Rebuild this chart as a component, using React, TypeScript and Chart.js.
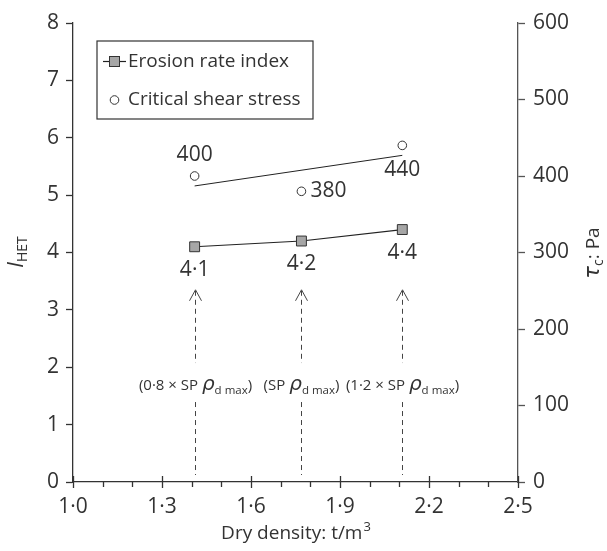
import React, { useEffect, useRef } from 'react';
import { Chart, registerables } from 'chart.js';

Chart.register(...registerables);

// ---------- data ----------
const densities = [1.41, 1.77, 2.11];
const erosionIndex = [4.1, 4.2, 4.4];
const shearStress = [400, 380, 440];
const trendDensity = [1.41, 2.11];
const trendStress = [387, 427];
const erosionLabels = ['4·1', '4·2', '4·4'];
const stressLabels = ['400', '380', '440'];
const densityPrefixes = ['(0·8 × SP ', '(SP ', '(1·2 × SP '];
const arrowTipValue = 3.35;
const densityLabelValue = 1.69;
const xTickValues = [1.0, 1.3, 1.6, 1.9, 2.2, 2.5];

const FONT = "'Open Sans', 'Noto Sans', sans-serif";
const TEXT = '#333333';
const AXIS = '#333333';

const fmt = (v: number) => v.toFixed(1).replace('.', '·');

const overlayPlugin = {
  id: 'overlay',
  afterDraw(chart: any) {
    const ctx: CanvasRenderingContext2D = chart.ctx;
    const xs = chart.scales.x;
    const ys = chart.scales.y;
    const ys1 = chart.scales.y1;
    const area = chart.chartArea;

    ctx.save();
    // x-axis tick marks (major crossing, minor below)
    ctx.strokeStyle = AXIS;
    ctx.lineWidth = 1.3;
    for (let n = 10; n <= 25; n++) {
      const px = Math.round(xs.getPixelForValue(n / 10)) + 0.5;
      const major = (n - 10) % 3 === 0;
      ctx.beginPath();
      ctx.moveTo(px, area.bottom - (major ? 6 : 0));
      ctx.lineTo(px, area.bottom + (major ? 6 : 5));
      ctx.stroke();
    }

    // annotations: dashed arrows and density labels
    densities.forEach((d, i) => {
      const px = Math.round(xs.getPixelForValue(d)) + 0.5;
      const tipY = ys.getPixelForValue(arrowTipValue);
      const labY = ys.getPixelForValue(densityLabelValue);
      const baseY = ys.getPixelForValue(0);
      ctx.strokeStyle = '#444';
      ctx.lineWidth = 1;
      ctx.setLineDash([5, 4]);
      ctx.beginPath();
      ctx.moveTo(px, tipY + 1);
      ctx.lineTo(px, labY - 22);
      ctx.moveTo(px, labY + 17);
      ctx.lineTo(px, baseY - 7);
      ctx.stroke();
      ctx.setLineDash([]);
      ctx.beginPath();
      ctx.moveTo(px - 6, tipY + 11);
      ctx.lineTo(px, tipY);
      ctx.lineTo(px + 6, tipY + 11);
      ctx.stroke();

      // label (prefix + ρ + subscript d max + ')')
      const parts = [
        { t: densityPrefixes[i], f: `15px ${FONT}`, dy: 0 },
        { t: 'ρ', f: `italic 20px 'DejaVu Sans', ${FONT}`, dy: 0 },
        { t: 'd max', f: `11.5px ${FONT}`, dy: 4 },
        { t: ')', f: `15px ${FONT}`, dy: 0 },
      ];
      let w = 0;
      parts.forEach((p) => {
        ctx.font = p.f;
        w += ctx.measureText(p.t).width;
      });
      let cx = px - w / 2;
      ctx.fillStyle = TEXT;
      ctx.textBaseline = 'alphabetic';
      ctx.textAlign = 'left';
      parts.forEach((p) => {
        ctx.font = p.f;
        ctx.fillText(p.t, cx, labY + 5 + p.dy);
        cx += ctx.measureText(p.t).width;
      });
    });

    // value labels
    ctx.fillStyle = TEXT;
    ctx.font = `21px ${FONT}`;
    ctx.textBaseline = 'middle';
    densities.forEach((d, i) => {
      const px = xs.getPixelForValue(d);
      const pyE = ys.getPixelForValue(erosionIndex[i]);
      ctx.textAlign = 'center';
      ctx.fillText(erosionLabels[i], px, pyE + 23);
      const pyS = ys1.getPixelForValue(shearStress[i]);
      if (i === 0) {
        ctx.textAlign = 'center';
        ctx.fillText(stressLabels[i], px, pyS - 21);
      } else if (i === 1) {
        ctx.textAlign = 'left';
        ctx.fillText(stressLabels[i], px + 9, pyS);
      } else {
        ctx.textAlign = 'center';
        ctx.fillText(stressLabels[i], px, pyS + 25);
      }
    });

    // legend box
    ctx.strokeStyle = AXIS;
    ctx.lineWidth = 1.2;
    ctx.strokeRect(97, 41, 216, 78);
    // entry 1
    ctx.beginPath();
    ctx.moveTo(103, 61.5);
    ctx.lineTo(126, 61.5);
    ctx.lineWidth = 1.2;
    ctx.strokeStyle = '#222';
    ctx.stroke();
    ctx.fillStyle = '#a6a6a6';
    ctx.fillRect(109.5, 56.5, 10, 10);
    ctx.lineWidth = 1;
    ctx.strokeStyle = '#333';
    ctx.strokeRect(109.5, 56.5, 10, 10);
    // entry 2
    ctx.beginPath();
    ctx.arc(114.5, 100, 4.3, 0, Math.PI * 2);
    ctx.fillStyle = '#fff';
    ctx.fill();
    ctx.stroke();
    ctx.fillStyle = TEXT;
    ctx.font = `19px ${FONT}`;
    ctx.textAlign = 'left';
    ctx.textBaseline = 'middle';
    ctx.fillText('Erosion rate index', 128, 61.5);
    ctx.fillText('Critical shear stress', 128, 100);

    // rotated axis titles
    const drawRotTitle = (cx: number, cy: number, parts: { t: string; f: string; dy: number }[]) => {
      ctx.save();
      ctx.translate(cx, cy);
      ctx.rotate(-Math.PI / 2);
      let w = 0;
      parts.forEach((p) => {
        ctx.font = p.f;
        w += ctx.measureText(p.t).width;
      });
      let x = -w / 2;
      ctx.textAlign = 'left';
      ctx.textBaseline = 'alphabetic';
      ctx.fillStyle = TEXT;
      parts.forEach((p) => {
        ctx.font = p.f;
        ctx.fillText(p.t, x, 7 + p.dy);
        x += ctx.measureText(p.t).width;
      });
      ctx.restore();
    };
    drawRotTitle(16, 252, [
      { t: 'I', f: `italic 21px ${FONT}`, dy: 0 },
      { t: 'HET', f: `14px ${FONT}`, dy: 4 },
    ]);
    drawRotTitle(592, 253, [
      { t: 'τ', f: `italic 21px 'DejaVu Sans', ${FONT}`, dy: 0 },
      { t: 'c', f: `14px ${FONT}`, dy: 4 },
      { t: ': Pa', f: `19px ${FONT}`, dy: 0 },
    ]);

    // x title
    ctx.font = `19px ${FONT}`;
    const main = 'Dry density: t/m';
    const mw = ctx.measureText(main).width;
    ctx.font = `13px ${FONT}`;
    const sw = ctx.measureText('3').width;
    const sx = (area.left + area.right) / 2 - (mw + sw) / 2;
    ctx.textAlign = 'left';
    ctx.textBaseline = 'alphabetic';
    ctx.fillStyle = TEXT;
    ctx.font = `19px ${FONT}`;
    ctx.fillText(main, sx, 539);
    ctx.font = `13px ${FONT}`;
    ctx.fillText('3', sx + mw + 1, 531);

    ctx.restore();
  },
};

export default function App() {
  const ref = useRef<HTMLCanvasElement>(null);
  useEffect(() => {
    if (!ref.current) return;
    const chart = new Chart(ref.current, {
      type: 'line',
      data: {
        datasets: [
          {
            label: 'Erosion rate index',
            data: densities.map((d, i) => ({ x: d, y: erosionIndex[i] })),
            yAxisID: 'y',
            borderColor: '#222',
            borderWidth: 1.2,
            pointStyle: 'rect',
            pointRadius: 7,
            pointBackgroundColor: '#a6a6a6',
            pointBorderColor: '#333',
            pointBorderWidth: 1,
          },
          {
            label: 'Trend',
            data: trendDensity.map((d, i) => ({ x: d, y: trendStress[i] })),
            yAxisID: 'y1',
            borderColor: '#222',
            borderWidth: 1,
            pointRadius: 0,
          },
          {
            label: 'Critical shear stress',
            data: densities.map((d, i) => ({ x: d, y: shearStress[i] })),
            yAxisID: 'y1',
            showLine: false,
            pointStyle: 'circle',
            pointRadius: 4.3,
            pointBackgroundColor: '#fff',
            pointBorderColor: '#333',
            pointBorderWidth: 1,
          },
        ],
      },
      options: {
        animation: false,
        responsive: false,
        devicePixelRatio: 1,
        layout: { padding: { top: 23, left: 0, right: 0, bottom: 0 } },
        plugins: { legend: { display: false }, tooltip: { enabled: false } },
        scales: {
          x: {
            type: 'linear',
            min: 1.0,
            max: 2.5,
            afterBuildTicks: (s: any) => {
              s.ticks = xTickValues.map((v) => ({ value: v }));
            },
            ticks: {
              autoSkip: false,
              maxRotation: 0,
              padding: 6,
              color: TEXT,
              font: { family: FONT, size: 21 },
              callback: (v: any) => fmt(Number(v)),
            },
            grid: { drawOnChartArea: false, drawTicks: true, tickLength: 6, tickColor: 'rgba(0,0,0,0)' },
            border: { display: true, color: AXIS, width: 1.3 },
            afterFit: (s: any) => {
              s.height = 69;
            },
          },
          y: {
            type: 'linear',
            position: 'left',
            min: 0,
            max: 8,
            ticks: {
              stepSize: 1,
              padding: 7,
              color: TEXT,
              font: { family: FONT, size: 21 },
            },
            grid: { drawOnChartArea: false, drawTicks: true, tickLength: 7, tickColor: AXIS, tickWidth: 1.3 },
            border: { display: true, color: AXIS, width: 1.3 },
            afterFit: (s: any) => {
              s.width = 73;
            },
          },
          y1: {
            type: 'linear',
            position: 'right',
            min: 0,
            max: 600,
            ticks: {
              stepSize: 100,
              padding: 8,
              color: TEXT,
              font: { family: FONT, size: 21 },
            },
            grid: { drawOnChartArea: false, drawTicks: true, tickLength: 7, tickColor: '#555', tickWidth: 1.3 },
            border: { display: true, color: '#555', width: 1.3 },
            afterFit: (s: any) => {
              s.width = 89;
            },
          },
        },
      },
      plugins: [overlayPlugin],
    } as any);
    return () => chart.destroy();
  }, []);
  return (
    <div style={{ position: 'absolute', left: 0, top: 0, width: 607, height: 551, background: '#fff' }}>
      <canvas ref={ref} width={607} height={551} />
    </div>
  );
}
